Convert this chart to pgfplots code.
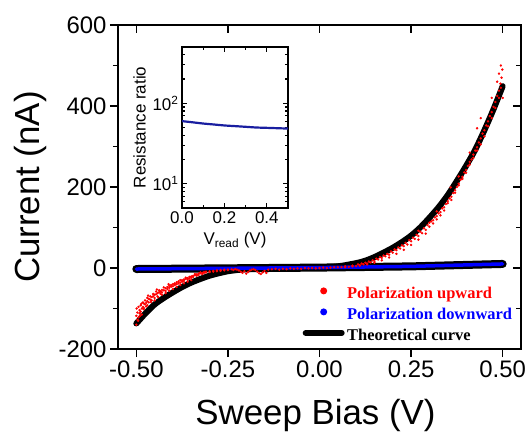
\documentclass[border=0pt]{standalone}
\usepackage{pgfplots}
\pgfplotsset{compat=1.18}
\usepackage{fontspec}
\setmainfont{Liberation Sans}
\newfontfamily\tnr{Liberation Serif}
\definecolor{inblue}{RGB}{25,30,160}
\begin{document}
\begin{tikzpicture}
\begin{axis}[name=main, at={(0,0)}, anchor=south west,
  width=403bp, height=324bp, scale only axis,
  xmin=-0.55, xmax=0.55, ymin=-200, ymax=600,
  xtick={-0.5,-0.25,0,0.25,0.5},
  xticklabels={-0.50,-0.25,0.00,0.25,0.50},
  ytick={-200,0,200,400,600}, minor ytick={-100,100,300,500},
  tick align=outside, xtick pos=left, ytick pos=left,
  major tick length=8bp, minor tick length=5bp,
  axis line style={line width=1.8bp}, every tick/.style={black, line width=1.6bp},
  /pgf/number format/assume math mode=true,
  tick label style={font=\fontsize{24}{28}\selectfont},
  xlabel={Sweep Bias (V)}, ylabel={Current (nA)},
  every axis x label/.style={at={(axis description cs:0.49,-0.204)}, anchor=center, font=\fontsize{35}{40}\selectfont},
  every axis y label/.style={at={(axis description cs:-0.216,0.5)}, rotate=90, anchor=center, font=\fontsize{35}{40}\selectfont},
  legend style={at={(axis description cs:0.4578,0.2000)}, anchor=north west, draw=none, fill=none, inner sep=0pt, row sep=0pt,
    nodes={text height=12bp, text depth=4bp, inner sep=2.5bp, font=\fontsize{16.5}{19}\selectfont\tnr\bfseries}},
  legend cell align=left,
]
% red scatter (upward)
\addplot[only marks, mark=*, mark size=1bp, red, forget plot] coordinates {
(-0.500,-140) (-0.500,-118) (-0.499,-100) (-0.497,-128) (-0.497,-110) (-0.494,-122) (-0.494,-96) (-0.491,-112) (-0.491,-104) (-0.488,-108) (-0.488,-92) (-0.485,-100) (-0.485,-115) (-0.482,-96) (-0.482,-85) (-0.479,-99) (-0.479,-88) (-0.476,-90) (-0.476,-80) (-0.473,-86) (-0.473,-95) (-0.470,-82) (-0.470,-74) (-0.466,-85) (-0.466,-76) (-0.462,-78) (-0.462,-70) (-0.458,-72) (-0.458,-80) (-0.454,-70) (-0.454,-64) (-0.450,-74) (-0.450,-66) (-0.446,-65) (-0.446,-58) (-0.442,-62) (-0.442,-70) (-0.438,-60) (-0.438,-55) (-0.434,-58) (-0.434,-64) (-0.430,-54) (-0.430,-60) (-0.425,-55) (-0.425,-48) (-0.420,-50) (-0.420,-57) (-0.415,-47) (-0.415,-52) (-0.410,-49) (-0.410,-44) (-0.405,-42) (-0.405,-46) (-0.400,-45) (-0.400,-40) (-0.395,-38) (-0.395,-42) (-0.390,-40) (-0.390,-35) (-0.385,-33) (-0.385,-38) (-0.380,-36) (-0.380,-30) (-0.375,-30) (-0.375,-34) (-0.370,-28) (-0.370,-32) (-0.365,-27) (-0.365,-24) (-0.360,-25) (-0.360,-29) (-0.355,-22) (-0.355,-26) (-0.350,-21) (-0.350,-24) (-0.345,-19) (-0.345,-22) (-0.340,-18) (-0.340,-15) (-0.335,-16) (-0.335,-19) (-0.330,-14) (-0.330,-17) (-0.325,-13) (-0.325,-11) (-0.320,-12) (-0.320,-15) (-0.315,-10) (-0.315,-12) (-0.310,-9) (-0.310,-11) (-0.300,-8) (-0.300,-10) (-0.290,-7) (-0.290,-9) (-0.280,-6) (-0.280,-8) (-0.270,-5) (-0.270,-7) (-0.260,-4) (-0.260,-6) (-0.250,-4) (-0.250,-5)
(-0.495,-130) (-0.49,-118) (-0.48,-102) (-0.47,-92) (-0.46,-84) (-0.45,-80) (-0.44,-72) (-0.43,-66) (-0.42,-62) (-0.41,-56) (-0.40,-52) (-0.39,-47) (-0.38,-42) (-0.37,-38) (-0.36,-34) (-0.35,-30) (-0.486,-88) (-0.468,-68) (-0.444,-53) (-0.412,-40)
(-0.240,-3) (-0.235,-5) (-0.230,-3) (-0.225,-4) (-0.220,-6) (-0.215,-9) (-0.210,-12) (-0.205,-8) (-0.200,-14) (-0.195,-10) (-0.190,-6) (-0.185,-4) (-0.180,-3) (-0.175,-5) (-0.170,-9) (-0.165,-13) (-0.160,-15) (-0.155,-11) (-0.150,-7) (-0.145,-12) (-0.140,-4) (-0.130,-3) (-0.120,-2) (-0.110,-4) (-0.100,-2) (-0.090,-3) (-0.080,-1) (-0.070,-2) (-0.060,-1) (-0.050,-2) (-0.040,0) (-0.030,-1) (-0.020,0) (-0.010,-1) (0,0) (0.010,1) (0.020,0) (0.030,1) (0.040,2) (0.050,2)
(0.060,2) (0.070,4) (0.080,3) (0.090,6) (0.100,5) (0.105,9) (0.110,7) (0.115,11) (0.120,9) (0.125,13) (0.130,11) (0.135,16) (0.140,14) (0.145,19) (0.150,17) (0.155,23) (0.160,21) (0.165,27) (0.170,25) (0.175,31) (0.180,29) (0.185,35) (0.190,33) (0.195,41) (0.200,38) (0.205,46) (0.210,44) (0.215,51) (0.220,48) (0.225,56) (0.230,54) (0.235,62) (0.240,58) (0.245,69) (0.250,66) (0.255,75) (0.260,72) (0.265,82) (0.270,79) (0.275,90) (0.280,86) (0.285,98) (0.290,94) (0.295,106) (0.300,102) (0.305,115) (0.310,110) (0.315,125) (0.320,120) (0.325,135) (0.330,130) (0.335,147) (0.340,142) (0.345,158) (0.350,165) (0.355,172) (0.360,168) (0.365,185) (0.370,192) (0.375,200) (0.380,208) (0.385,218) (0.390,225) (0.395,236) (0.400,242) (0.405,252) (0.410,262) (0.415,268) (0.420,280) (0.425,290) (0.430,298) (0.435,310) (0.440,320) (0.445,332) (0.450,340) (0.455,352) (0.460,362) (0.465,375) (0.470,385) (0.475,398) (0.480,410) (0.485,425) (0.490,438) (0.494,455) (0.497,470) (0.499,490) (0.500,420)
(0.07,2) (0.09,4) (0.11,6) (0.13,9) (0.15,13) (0.17,19) (0.19,26) (0.21,35) (0.23,45) (0.25,57) (0.27,70) (0.29,85)
(0.30,112) (0.31,118) (0.32,128) (0.33,138) (0.34,150) (0.35,160) (0.36,176) (0.37,186) (0.38,204) (0.39,220) (0.40,235) (0.41,255) (0.42,272) (0.43,290) (0.44,305) (0.45,325) (0.46,350) (0.47,370) (0.48,395) (0.49,420) (0.495,445)
(0.358,199) (0.43,345) (0.44,370) (0.47,420) (0.485,460) (0.49,480) (0.495,500) (0.41,285) (0.38,226) (0.32,140) (0.27,92)
};
% theoretical curve (upward)
\addplot[black, line width=6bp, line cap=round, line join=round, smooth, no marks, forget plot] coordinates {
(-0.50,-137) (-0.475,-112) (-0.45,-90) (-0.425,-74) (-0.40,-60) (-0.375,-47) (-0.35,-36) (-0.325,-27) (-0.30,-19) (-0.275,-13) (-0.25,-8) (-0.225,-5) (-0.20,-3) (-0.15,-1) (-0.10,0) (-0.05,0.5) (0,1) (0.05,4) (0.10,12) (0.125,18) (0.15,27) (0.175,38) (0.20,50) (0.225,64) (0.25,80) (0.275,100) (0.30,124) (0.325,150) (0.35,180) (0.375,215) (0.40,252) (0.425,292) (0.45,340) (0.475,392) (0.50,449)
};
% downward: black outline + blue points
\addplot[black, line width=8bp, line cap=round, no marks, forget plot] coordinates {(-0.5,-2.5) (-0.25,-0.8) (0,1) (0.25,4) (0.5,10)};
\addplot[blue, line width=3.5bp, line cap=round, no marks, forget plot] coordinates {(-0.5,-2.5) (-0.25,-0.8) (0,1) (0.25,4) (0.5,10)};
\addlegendimage{legend image code/.code={\path[draw=none,fill=none] (0bp,4bp) -- (42bp,4bp); \fill[red,draw=none] (21bp,4bp) circle (3.5bp);}}
\addlegendentry{\textcolor{red}{Polarization upward}}
\addlegendimage{legend image code/.code={\path[draw=none,fill=none] (0bp,4bp) -- (42bp,4bp); \fill[blue,draw=none] (21bp,4bp) circle (3.5bp);}}
\addlegendentry{\textcolor{blue}{Polarization downward}}
\addlegendimage{legend image code/.code={\draw[black, line width=6bp, line cap=round] (3bp,4bp) -- (39bp,4bp);}}
\addlegendentry{Theoretical curve}
\end{axis}
% mirrored inward ticks top/right
\begin{axis}[at={(0,0)}, anchor=south west,
  width=403bp, height=324bp, scale only axis,
  xmin=-0.55, xmax=0.55, ymin=-200, ymax=600,
  xtick={-0.5,-0.25,0,0.25,0.5}, ytick={-200,0,200,400,600}, minor ytick={-100,100,300,500},
  tick align=inside, xtick pos=right, ytick pos=right,
  xticklabels={}, yticklabels={},
  major tick length=8bp, minor tick length=5bp,
  axis line style={line width=1.8bp}, every tick/.style={black, line width=1.6bp},
]
\end{axis}
% inset
\begin{axis}[at={(64bp,302bp)}, anchor=north west,
  width=106bp, height=161bp, scale only axis,
  xmin=0, xmax=0.5, ymin=5, ymax=500, ymode=log,
  xtick={0,0.2,0.4}, minor xtick={0.1,0.3}, xticklabels={0.0,0.2,0.4},
  ytick={10,100}, yticklabels={10\textsuperscript{1},10\textsuperscript{2}},
  minor ytick={5,6,7,8,9,20,30,40,50,60,70,80,90,200,300,400,500},
  tick align=inside, major tick length=5bp, minor tick length=3bp,
  axis line style={line width=1.5bp}, every tick/.style={black, line width=1.2bp},
  tick label style={font=\fontsize{17}{20}\selectfont},
  xlabel={V\textsubscript{read} (V)}, ylabel={Resistance ratio},
  every axis x label/.style={at={(axis description cs:0.5,-0.2)}, anchor=center, font=\fontsize{17}{20}\selectfont},
  every axis y label/.style={at={(axis description cs:-0.4,0.5)}, rotate=90, anchor=center, font=\fontsize{17}{20}\selectfont},
]
\addplot[inblue, line width=2.2bp, smooth, no marks] coordinates {(0,60) (0.05,58) (0.1,56) (0.15,54.5) (0.2,53) (0.25,52) (0.3,51) (0.35,50) (0.4,49.5) (0.45,49) (0.5,48.5)};
\end{axis}
\pgfresetboundingbox
\path (-118bp,-87bp) rectangle (410bp,349bp);
\end{tikzpicture}
\end{document}
